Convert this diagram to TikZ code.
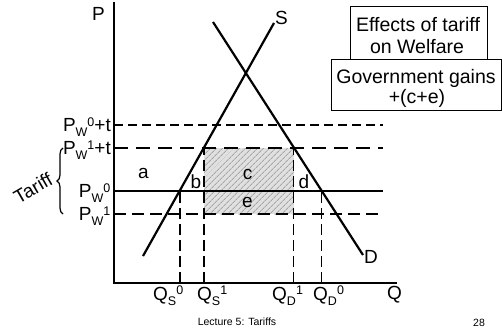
\documentclass[tikz,border=0pt]{standalone}
\usepackage{fontspec}
\setmainfont{Liberation Sans}
\usetikzlibrary{patterns.meta,decorations.pathreplacing}
\newcommand\lsb[1]{\raisebox{-5pt}{\fontsize{12.5}{12.5}\selectfont #1}}
\newcommand\lsp[1]{\raisebox{5.5pt}{\fontsize{12.5}{12.5}\selectfont #1}}
\begin{document}
\begin{tikzpicture}[x=1pt,y=-1pt,
  lbl/.style={font=\fontsize{19}{22}\selectfont, inner sep=0pt},
  boxt/.style={font=\fontsize{19.5}{22}\selectfont, inner sep=0pt},
  foot/.style={font=\fontsize{10.5}{12}\selectfont, inner sep=0pt},
  curve/.style={line width=2.2pt},
  axisline/.style={line width=2.2pt},
  solidh/.style={line width=2.2pt},
  dashA/.style={line width=2.2pt, dash pattern=on 8.5pt off 5.5pt},
  dashB/.style={line width=1.8pt, dash pattern=on 14pt off 8pt},
  dashC/.style={line width=2pt, dash pattern=on 12pt off 6pt},
  vdash/.style={line width=1.6pt, dash pattern=on 11pt off 5pt},
  infobox/.style={draw=black, line width=0.8pt},
  hatch/.style={fill=black!12, postaction={pattern={Lines[angle=45,distance=4pt,line width=1pt]}, pattern color=black!35}}
]
\useasboundingbox (0,0) rectangle (502,332);

% key coordinates
\coordinate (O) at (114,283);
\coordinate (Ptop) at (114,2);
\coordinate (Qend) at (397,283);
\coordinate (Slo) at (143,256);
\coordinate (Shi) at (274,23);
\coordinate (Dhi) at (213,22);
\coordinate (Dlo) at (363,255);
\coordinate (h1l) at (114,125); \coordinate (h1r) at (383,125);
\coordinate (h2l) at (114,148); \coordinate (h2r) at (383,148);
\coordinate (h3l) at (114,191); \coordinate (h3r) at (383,191);
\coordinate (h4l) at (114,214); \coordinate (h4r) at (383,214);
\coordinate (qs0t) at (180,191); \coordinate (qs0b) at (180,283);
\coordinate (qs1t) at (204,148); \coordinate (qs1b) at (204,283);
\coordinate (qd1t) at (293.5,148); \coordinate (qd1b) at (293.5,283);
\coordinate (qd0t) at (321.5,191); \coordinate (qd0b) at (321.5,283);
\coordinate (rA) at (204,148); \coordinate (rB) at (293.5,214);

% shaded government revenue area
\path[hatch] (rA) rectangle (rB);

% horizontal price lines
\draw[dashA] (h1l) -- (h1r);
\draw[dashB] (h2l) -- (h2r);
\draw[solidh] (h3l) -- (h3r);
\draw[dashC] (h4l) -- (h4r);

% vertical quantity lines
\draw[vdash] (qs0b) -- (qs0t);
\draw[vdash] (qs1b) -- (qs1t);
\draw[vdash] (qd1b) -- (qd1t);
\draw[vdash] (qd0b) -- (qd0t);

% supply and demand
\draw[curve] (Slo) -- (Shi);
\draw[curve] (Dhi) -- (Dlo);

% axes
\draw[axisline] (Ptop) -- (O) -- (Qend);

% axis labels
\node[lbl, anchor=base west] (Plab) at (92,20) {P};
\node[lbl, anchor=base west] (Qlab) at (387,299) {Q};
\node[lbl, anchor=base west] (Slab) at (275,24.5) {S};
\node[lbl, anchor=base west] (Dlab) at (364,263) {D};

% price labels
\node[lbl, anchor=base east] (lp0t) at (111,131.8) {P\lsb{W}\lsp{0}+t};
\node[lbl, anchor=base east] (lp1t) at (111,154.8) {P\lsb{W}\lsp{1}+t};
\node[lbl, anchor=base east] (lp0) at (110.5,197.8) {P\lsb{W}\lsp{0}};
\node[lbl, anchor=base east] (lp1) at (110.5,220.8) {P\lsb{W}\lsp{1}};

% quantity labels
\node[lbl, anchor=base west] (lqs0) at (153,300) {Q\lsb{S}\lsp{0}};
\node[lbl, anchor=base west] (lqs1) at (197,300) {Q\lsb{S}\lsp{1}};
\node[lbl, anchor=base west] (lqd1) at (272,300) {Q\lsb{D}\lsp{1}};
\node[lbl, anchor=base west] (lqd0) at (313,300) {Q\lsb{D}\lsp{0}};

% area labels
\node[lbl, anchor=base] (la) at (143.5,178) {a};
\node[lbl, anchor=base] (lb) at (196,188) {b};
\node[lbl, anchor=base] (lc) at (247.5,179) {c};
\node[lbl, anchor=base] (ld) at (304,188) {d};
\node[lbl, anchor=base] (le) at (247.5,207) {e};

% tariff brace
\coordinate (brb) at (63,214);
\coordinate (brt) at (63,148);
\draw[line width=1.2pt, decorate, decoration={brace, amplitude=6pt}] (brb) -- (brt);
\node[lbl, rotate=30] (ltar) at (33,188) {Tariff};

% info boxes
\draw[infobox] (350,6) rectangle (487,59);
\draw[infobox] (331,59) rectangle (501,110);
\node[boxt, anchor=base] (bt1) at (418,31) {Effects of tariff};
\node[boxt, anchor=base] (bt2) at (417,53) {on Welfare};
\node[boxt, anchor=base] (bt3) at (416,83) {Government gains};
\node[boxt, anchor=base] (bt4) at (417,103) {+(c+e)};

% footer
\node[foot, anchor=base] (ft) at (237,325) {Lecture 5: Tariffs};
\node[foot, anchor=base] (fn) at (479,326) {28};
\end{tikzpicture}
\end{document}
